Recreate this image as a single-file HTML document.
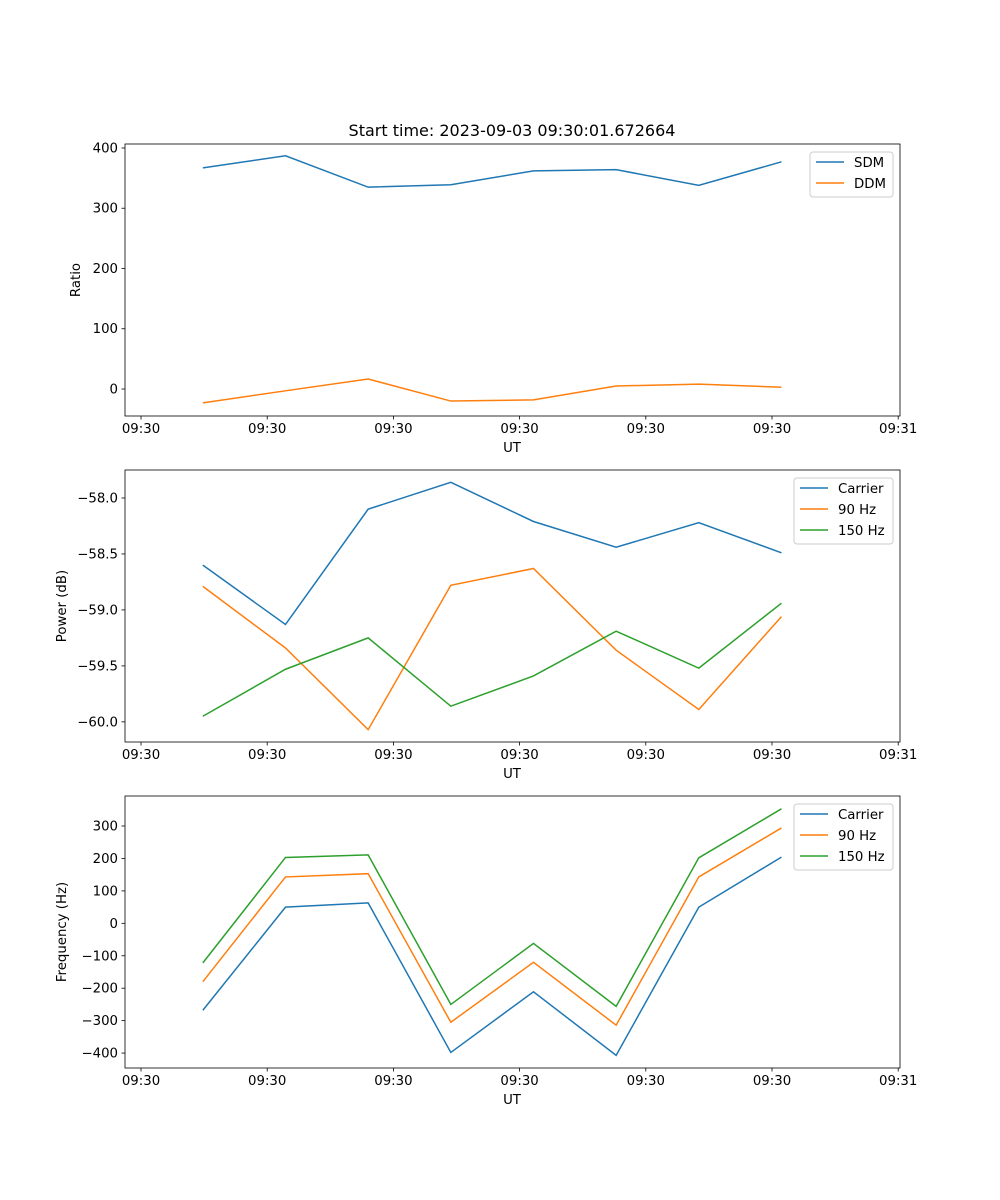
<!DOCTYPE html>
<html><head><meta charset="utf-8"><style>
body{margin:0;background:#fff;}
svg{display:block;font-family:"DejaVu Sans","Liberation Sans",sans-serif;}
</style></head><body>
<svg id="fig" width="1000" height="1200"></svg>
<script>
const timesSec=[4.9,11.45,18.0,24.55,31.1,37.65,44.2,50.75];
const xTickSec=[0,10,20,30,40,50,60];
const xTickLabels=["09:30","09:30","09:30","09:30","09:30","09:30","09:31"];
const sdm=[367,387,335,339,362,364,338,377];
const ddm=[-23,-3,16.6,-20,-18,5,8,3];
const powCarrier=[-58.6,-59.13,-58.1,-57.86,-58.21,-58.44,-58.22,-58.49];
const pow90=[-58.79,-59.34,-60.07,-58.78,-58.63,-59.36,-59.89,-59.06];
const pow150=[-59.95,-59.53,-59.25,-59.86,-59.59,-59.19,-59.52,-58.94];
const freqCarrier=[-268,50,63,-398,-211,-407,50,204];
const freq90=[-180,143,153,-305,-120,-314,143,294];
const freq150=[-122,203,211,-250,-62,-256,202,353];
const ratioTicks=[0,100,200,300,400];
const powTicks=[-60.0,-59.5,-59.0,-58.5,-58.0];
const freqTicks=[-400,-300,-200,-100,0,100,200,300];
const C=["#1f77b4","#ff7f0e","#2ca02c"];
const NS="http://www.w3.org/2000/svg";
const svg=document.getElementById('fig');
function mk(t,a,p){const e=document.createElementNS(NS,t);for(const k in a)e.setAttribute(k,a[k]);(p||svg).appendChild(e);return e;}
const X0=125,X1=900;
function xs(t){return 141+(t/10)*126.2;}
function drawAxes(name,top,bottom,ymin,ymax,ticks,fmt,ylabel,series,labels,legW){
  const g=mk('g',{});
  
  
  const ys=v=>bottom-(v-ymin)/(ymax-ymin)*(bottom-top);
  series.forEach((s,i)=>{
    const p=mk('polyline',{points:s.map((v,j)=>xs(timesSec[j])+','+ys(v)).join(' '),fill:'none',stroke:C[i],'stroke-width':1.5},g);
    
    
  });
  mk('rect',{x:X0,y:top,width:X1-X0,height:bottom-top,fill:'none',stroke:'#000','stroke-width':0.8},g);
  xTickSec.forEach((t,i)=>{const x=xs(t);mk('line',{x1:x,x2:x,y1:bottom,y2:bottom+3.5,stroke:'#000','stroke-width':0.8},g);
    const tx=mk('text',{x:x,y:bottom+17,'font-size':13.3,'text-anchor':'middle'},g);tx.textContent=xTickLabels[i];});
  ticks.forEach(v=>{const y=ys(v);mk('line',{x1:X0,x2:X0-3.5,y1:y,y2:y,stroke:'#000','stroke-width':0.8},g);
    const tx=mk('text',{x:X0-7,y:y+4.5,'font-size':13.3,'text-anchor':'end'},g);tx.textContent=fmt(v);});
  const xl=mk('text',{x:512,y:bottom+36,'font-size':13.3,'text-anchor':'middle'},g);xl.textContent='UT';
  
  const lx=ylabel=='Ratio'?80:66;
  const yl=mk('text',{x:lx,y:(top+bottom)/2,'font-size':13.3,'text-anchor':'middle',transform:`rotate(-90 ${lx} ${(top+bottom)/2})`},g);yl.textContent=ylabel;
  
  const lg=mk('g',{},g);
  
  const lx0=893-legW;
  mk('rect',{x:lx0,y:top+8,width:legW,height:labels.length*21+3,rx:3,fill:'#fff','fill-opacity':0.8,stroke:'#ccc'},lg);
  labels.forEach((l,i)=>{const y=top+18+i*21;
    mk('line',{x1:lx0+6,x2:lx0+34,y1:y,y2:y,stroke:C[i],'stroke-width':1.5},lg);
    const tx=mk('text',{x:lx0+44,y:y+5,'font-size':13.3},lg);tx.textContent=l;
    });
}
const title=mk('text',{x:512,y:136,'font-size':16,'text-anchor':'middle'});
title.textContent='Start time: 2023-09-03 09:30:01.672664';

drawAxes('ratio-panel',144,416,-44.8,406.6,ratioTicks,v=>v<0?'\u2212'+(-v):String(v),'Ratio',[sdm,ddm],['SDM','DDM'],83);
drawAxes('power-panel',470,742,-60.18,-57.75,powTicks,v=>'\u2212'+(-v).toFixed(1),'Power (dB)',[powCarrier,pow90,pow150],['Carrier','90 Hz','150 Hz'],99);
drawAxes('frequency-panel',796,1068,-446,392.5,freqTicks,v=>v<0?'\u2212'+(-v):String(v),'Frequency (Hz)',[freqCarrier,freq90,freq150],['Carrier','90 Hz','150 Hz'],99);
</script>
</body></html>
